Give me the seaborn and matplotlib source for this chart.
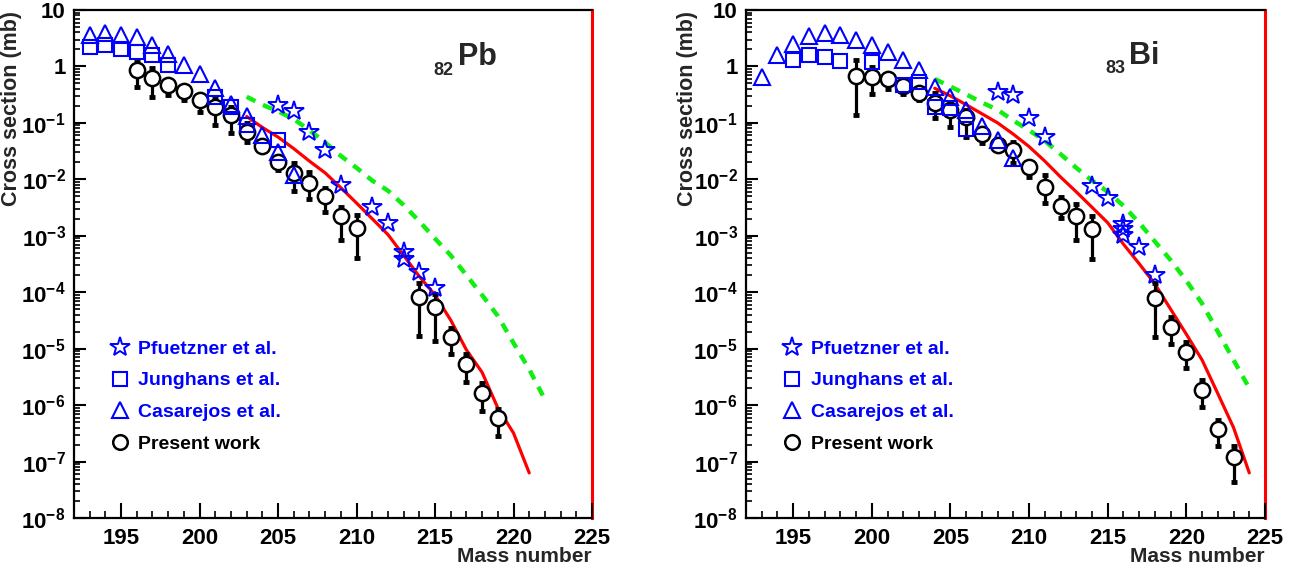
import numpy as np
import pandas as pd
import seaborn as sns
import matplotlib.pyplot as plt
from matplotlib.lines import Line2D
from matplotlib.ticker import FixedLocator, FixedFormatter, LogLocator, MultipleLocator, NullFormatter

# ---------------- 82Pb data (cross sections in mb) ----------------
pb_pf_mass = [205, 206, 207, 208, 209, 211, 212, 213, 213, 214, 215]
pb_pf_xs = [0.21, 0.16, 0.069, 0.033, 0.008, 0.0032, 0.0017, 5.2e-4, 3.9e-4, 2.3e-4, 1.2e-4]

pb_ju_mass = [193, 194, 195, 196, 197, 198, 201, 202, 203, 205]
pb_ju_xs = [2.2, 2.4, 2.05, 1.8, 1.6, 1.06, 0.29, 0.19, 0.09, 0.05]

pb_ca_mass = [193, 194, 195, 196, 197, 198, 199, 200, 201, 202, 203, 204, 205, 206]
pb_ca_xs = [3.6, 3.9, 3.6, 3.3, 2.4, 1.67, 1.06, 0.74, 0.42, 0.22, 0.13, 0.062, 0.031, 0.012]

pb_pw_mass = [196, 197, 198, 199, 200, 201, 202, 203, 204, 205, 206, 207, 208, 209, 210,
              214, 215, 216, 217, 218, 219]
pb_pw_xs = [0.87, 0.62, 0.47, 0.37, 0.255, 0.19, 0.139, 0.069, 0.039, 0.0204, 0.013, 0.0087,
            0.0051, 0.0022, 0.00138, 8.3e-5, 5.5e-5, 1.58e-5, 5.4e-6, 1.66e-6, 5.8e-7]
pb_pw_hi = [1.22, 0.94, 0.55, 0.42, 0.30, 0.28, 0.19, 0.10, 0.045, 0.024, 0.0196, 0.0136,
            0.0071, 0.0033, 0.0023, 1.48e-4, 9.4e-5, 2.36e-5, 8.1e-6, 2.5e-6, 8.7e-7]
pb_pw_lo = [0.44, 0.29, 0.31, 0.255, 0.157, 0.092, 0.067, 0.046, 0.033, 0.0148, 0.0063, 0.0044,
            0.0026, 0.00085, 0.00041, 1.7e-5, 1.38e-5, 8.0e-6, 2.6e-6, 8.0e-7, 2.8e-7]

pb_red_mass = list(range(203, 222))
pb_red_xs = [0.13, 0.083, 0.056, 0.035, 0.021, 0.013, 7.1e-3, 3.8e-3, 2.0e-3, 1.05e-3,
             4.5e-4, 1.9e-4, 8.9e-5, 3.2e-5, 9.5e-6, 3.8e-6, 8.9e-7, 3.2e-7, 6.3e-8]

pb_green_mass = list(range(203, 223))
pb_green_xs = [0.29, 0.21, 0.16, 0.117, 0.074, 0.045, 0.026, 0.016, 9.5e-3, 6.3e-3, 3.5e-3,
               1.8e-3, 8.9e-4, 4.5e-4, 2.0e-4, 8.9e-5, 3.8e-5, 1.26e-5, 4.3e-6, 1.26e-6]

# ---------------- 83Bi data ----------------
bi_pf_mass = [208, 209, 210, 211, 214, 215, 216, 216, 216, 217, 218]
bi_pf_xs = [0.35, 0.31, 0.12, 0.056, 0.0076, 0.0047, 0.0016, 0.0013, 0.00105, 6.3e-4, 2.0e-4]

bi_ju_mass = [195, 196, 197, 198, 200, 202, 203, 204, 205, 206]
bi_ju_xs = [1.3, 1.6, 1.5, 1.25, 1.2, 0.47, 0.52, 0.19, 0.18, 0.078]

bi_ca_mass = [193, 194, 195, 196, 197, 198, 199, 200, 201, 202, 203, 204, 205, 206, 207, 208, 209]
bi_ca_xs = [0.65, 1.6, 2.5, 3.5, 3.9, 3.6, 3.0, 2.4, 1.8, 1.3, 0.85, 0.43, 0.29, 0.17, 0.089,
            0.05, 0.024]

bi_pw_mass = [199, 200, 201, 202, 203, 204, 205, 206, 207, 208, 209, 210, 211, 212, 213, 214,
              218, 219, 220, 221, 222, 223]
bi_pw_xs = [0.68, 0.65, 0.6, 0.45, 0.34, 0.226, 0.17, 0.128, 0.064, 0.041, 0.033, 0.0166,
            0.0074, 0.0034, 0.0022, 0.0013, 7.9e-5, 2.45e-5, 8.9e-6, 1.86e-6, 3.8e-7, 1.18e-7]
bi_pw_hi = [1.3, 0.98, 0.7, 0.52, 0.40, 0.34, 0.236, 0.17, 0.075, 0.047, 0.046, 0.019,
            0.012, 0.0049, 0.0036, 0.0022, 1.48e-4, 3.7e-5, 1.33e-5, 2.8e-6, 5.5e-7, 1.85e-7]
bi_pw_lo = [0.139, 0.33, 0.40, 0.33, 0.255, 0.123, 0.085, 0.056, 0.044, 0.034, 0.0196, 0.011,
            0.0038, 0.0021, 0.00085, 0.00038, 1.6e-5, 1.23e-5, 4.6e-6, 9.3e-7, 1.9e-7, 4.3e-8]

bi_red_mass = list(range(204, 225))
bi_red_xs = [0.41, 0.30, 0.21, 0.145, 0.10, 0.063, 0.038, 0.021, 0.011, 6.0e-3, 3.2e-3,
             1.7e-3, 7.1e-4, 3.2e-4, 1.4e-4, 5.0e-5, 1.8e-5, 6.3e-6, 1.6e-6, 4.0e-7, 6.3e-8]

bi_green_mass = list(range(204, 225))
bi_green_xs = [0.6, 0.44, 0.32, 0.23, 0.17, 0.11, 0.074, 0.048, 0.028, 0.016, 9.5e-3,
               6.0e-3, 3.4e-3, 1.7e-3, 7.9e-4, 3.7e-4, 1.6e-4, 6.3e-5, 2.0e-5, 6.3e-6, 2.0e-6]

legend_labels = ['Pfuetzner et al.', 'Junghans et al.', 'Casarejos et al.', 'Present work']
y_tick_values = [10.0 ** k for k in range(-8, 2)]
y_tick_labels = ['$10^{-8}$', '$10^{-7}$', '$10^{-6}$', '$10^{-5}$', '$10^{-4}$',
                 '$10^{-3}$', '$10^{-2}$', '$10^{-1}$', '1', '10']

sns.set_style('ticks')
plt.rcParams['font.family'] = ['Liberation Sans', 'DejaVu Sans']
plt.rcParams['font.weight'] = 'bold'
plt.rcParams['mathtext.fontset'] = 'custom'
plt.rcParams['mathtext.rm'] = 'Liberation Sans:bold'
plt.rcParams['mathtext.bf'] = 'Liberation Sans:bold'
plt.rcParams['mathtext.it'] = 'Liberation Sans:bold'
plt.rcParams['mathtext.default'] = 'bf'
plt.rcParams['axes.axisbelow'] = False

W, H = 1297, 574
fig = plt.figure(figsize=(W / 100, H / 100), dpi=100)
fig.patch.set_facecolor('white')

BLUE = '#0000ff'
GREEN = '#11ee11'


def add_axes_px(x0, x1, y0, y1):
    return fig.add_axes([x0 / W, 1 - y1 / H, (x1 - x0) / W, (y1 - y0) / H])


def inner_ticks(ax):
    # ROOT-style inward ticks drawn as short segments at the locator positions
    x0, x1 = ax.get_xlim()
    y0, y1 = ax.get_ylim()
    xmaj = [v for v in ax.xaxis.get_majorticklocs() if x0 <= v <= x1]
    xmin = [v for v in ax.xaxis.get_minorticklocs() if x0 <= v <= x1]
    ymaj = [v for v in ax.yaxis.get_majorticklocs() if y0 <= v <= y1]
    ymin = [v for v in ax.yaxis.get_minorticklocs() if y0 <= v <= y1]
    xt = ax.get_xaxis_transform()
    yt = ax.get_yaxis_transform()
    ax.vlines(xmaj, 0, 0.03, transform=xt, colors='black', lw=1.5, zorder=6, clip_on=False)
    ax.vlines(xmin, 0, 0.014, transform=xt, colors='black', lw=1.2, zorder=6, clip_on=False)
    ax.hlines(ymaj, 0, 0.024, transform=yt, colors='black', lw=1.5, zorder=6, clip_on=False)
    ax.hlines(ymin, 0, 0.012, transform=yt, colors='black', lw=1.2, zorder=6, clip_on=False)


def draw_panel(ax, pf, ju, ca, pw, red, green):
    # model curves
    sns.lineplot(x=green[0], y=green[1], ax=ax, color=GREEN, lw=3.2,
                 linestyle=(0, (2.2, 1.9)), zorder=2)
    sns.lineplot(x=red[0], y=red[1], ax=ax, color='red', lw=2.3, zorder=2)

    # present work with asymmetric error bars
    m, v, hi, lo = [np.array(a, dtype=float) for a in pw]
    ax.errorbar(m, v, yerr=[v - lo, hi - v], fmt='none', ecolor='black',
                elinewidth=2.3, capsize=2.2, capthick=3.5, zorder=3)
    ax.plot(m, v, 'o', ms=11, mfc='white', mec='black', mew=1.8, zorder=4)

    # other experiments, open blue symbols
    ax.plot(ca[0], ca[1], '^', ms=11.5, mfc='none', mec=BLUE, mew=1.5, zorder=5)
    ax.plot(ju[0], ju[1], 's', ms=10.5, mfc='none', mec=BLUE, mew=1.5, zorder=5)
    ax.plot(pf[0], pf[1], '*', ms=15, mfc='none', mec=BLUE, mew=1.4, zorder=5)

    ax.set_yscale('log')
    ax.set_xlim(192, 225)
    ax.set_ylim(1e-8, 10)
    ax.xaxis.set_major_locator(MultipleLocator(5))
    ax.xaxis.set_minor_locator(MultipleLocator(1))
    ax.yaxis.set_major_locator(FixedLocator(y_tick_values))
    ax.yaxis.set_major_formatter(FixedFormatter(y_tick_labels))
    ax.yaxis.set_minor_locator(LogLocator(base=10, subs=np.arange(2, 10), numticks=20))
    ax.yaxis.set_minor_formatter(NullFormatter())
    ax.tick_params(axis='both', which='both', direction='in', top=False, right=False,
                   bottom=True, left=True, labelsize=16, color='black',
                   labelcolor='black', length=0)
    ax.tick_params(axis='x', which='major', pad=7)
    ax.tick_params(axis='y', which='major', pad=6)
    for lab in ax.get_xticklabels() + ax.get_yticklabels():
        lab.set_fontweight('bold')
    ax.set_xlabel('')
    ax.set_ylabel('')
    for side in ['left', 'top', 'bottom']:
        ax.spines[side].set_visible(True)
        ax.spines[side].set_color('black')
        ax.spines[side].set_linewidth(1.6)
    ax.spines['right'].set_visible(True)
    ax.spines['right'].set_color('red')
    ax.spines['right'].set_linewidth(2.2)
    inner_ticks(ax)

    handles = [
        Line2D([], [], ls='none', marker='*', ms=15, mfc='none', mec=BLUE, mew=1.4),
        Line2D([], [], ls='none', marker='s', ms=10.5, mfc='none', mec=BLUE, mew=1.5),
        Line2D([], [], ls='none', marker='^', ms=11, mfc='none', mec=BLUE, mew=1.5),
        Line2D([], [], ls='none', marker='o', ms=10.5, mfc='white', mec='black', mew=1.8),
    ]
    ax.legend(handles, legend_labels, loc='upper left', bbox_to_anchor=(0.07, 0.35),
              frameon=False, handlelength=1.0, handletextpad=0.45,
              labelspacing=0.72, borderpad=0, borderaxespad=0,
              labelcolor=[BLUE, BLUE, BLUE, 'black'], prop={'weight': 'bold', 'size': 14})


ax_pb = add_axes_px(74, 592, 10, 518)
ax_bi = add_axes_px(746, 1265, 10, 518)

draw_panel(ax_pb, (pb_pf_mass, pb_pf_xs), (pb_ju_mass, pb_ju_xs), (pb_ca_mass, pb_ca_xs),
           (pb_pw_mass, pb_pw_xs, pb_pw_hi, pb_pw_lo),
           (pb_red_mass, pb_red_xs), (pb_green_mass, pb_green_xs))
draw_panel(ax_bi, (bi_pf_mass, bi_pf_xs), (bi_ju_mass, bi_ju_xs), (bi_ca_mass, bi_ca_xs),
           (bi_pw_mass, bi_pw_xs, bi_pw_hi, bi_pw_lo),
           (bi_red_mass, bi_red_xs), (bi_green_mass, bi_green_xs))

# axis titles, placed like the ROOT canvas
for x_lab, x_end in [(12, 592), (687, 1265)]:
    fig.text(x_lab / W, 1 - 108 / H, 'Cross section (mb)', rotation=90, ha='center',
             va='center', fontsize=15.5, fontweight='bold')
    fig.text(x_end / W, 1 - 557 / H, 'Mass number', ha='right', va='center',
             fontsize=15, fontweight='bold')

# element labels
fig.text(433 / W, 1 - 75 / H, '82', fontsize=13, fontweight='bold', va='baseline')
fig.text(458 / W, 1 - 65 / H, 'Pb', fontsize=22, fontweight='bold', va='baseline')
fig.text(1105 / W, 1 - 73 / H, '83', fontsize=13, fontweight='bold', va='baseline')
fig.text(1129 / W, 1 - 64 / H, 'Bi', fontsize=22, fontweight='bold', va='baseline')

fig.savefig('out.png', dpi=100, facecolor='white')
